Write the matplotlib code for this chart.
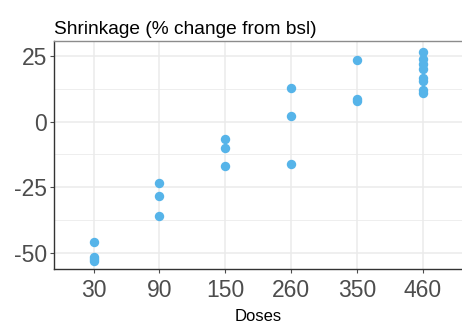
import numpy as np
import matplotlib.pyplot as plt

plt.rcParams['font.family'] = ['Liberation Sans', 'DejaVu Sans']
plt.rcParams['axes.unicode_minus'] = False

doses = ["30", "90", "150", "260", "350", "460"]
shrink_30 = [-45.7, -51.5, -52.2, -53.0]
shrink_90 = [-23.3, -28.3, -36.0]
shrink_150 = [-6.5, -9.9, -17.0]
shrink_260 = [12.7, 2.2, -16.1]
shrink_350 = [23.6, 8.6, 7.7]
shrink_460 = [26.6, 24.0, 21.9, 20.0, 16.5, 15.6, 12.0, 10.8]

groups = [shrink_30, shrink_90, shrink_150, shrink_260, shrink_350, shrink_460]

fig = plt.figure(figsize=(4.62, 3.25), dpi=100)
ax = fig.add_axes([0.117, 0.172, 0.883, 0.702])

for i, vals in enumerate(groups):
    ax.scatter([i + 1] * len(vals), vals, s=46, color="#56B4E9", zorder=3,
               linewidths=0)

ax.set_xlim(0.4, 6.6)
ax.set_ylim(-56.1, 30.7)
ax.set_xticks(range(1, 7))
ax.set_xticklabels(doses)
ax.set_yticks([-50, -25, 0, 25])
ax.set_yticks([-37.5, -12.5, 12.5], minor=True)

ax.grid(True, which="major", color="#EBEBEB", linewidth=1.1, zorder=0)
ax.grid(True, which="minor", axis="y", color="#EBEBEB", linewidth=0.6, zorder=0)
ax.set_axisbelow(True)

ax.tick_params(axis="both", which="major", labelsize=16.5, colors="#4D4D4D",
               length=3, width=0.8, pad=2)
ax.tick_params(axis="x", which="major", pad=4)
ax.tick_params(axis="both", which="minor", length=0)
for t in ax.get_xticklines() + ax.get_yticklines():
    t.set_color("#333333")

ax.spines["left"].set_color("#333333")
ax.spines["bottom"].set_color("#333333")
ax.spines["top"].set_color("#8C8C8C")
ax.spines["right"].set_visible(False)
for s in ax.spines.values():
    s.set_linewidth(1.0)

ax.set_xlabel("Doses", fontsize=12, labelpad=5)
ax.set_title("Shrinkage (% change from bsl)", loc="left", fontsize=13.8,
             pad=5)

fig.savefig("out.png", dpi=100)
